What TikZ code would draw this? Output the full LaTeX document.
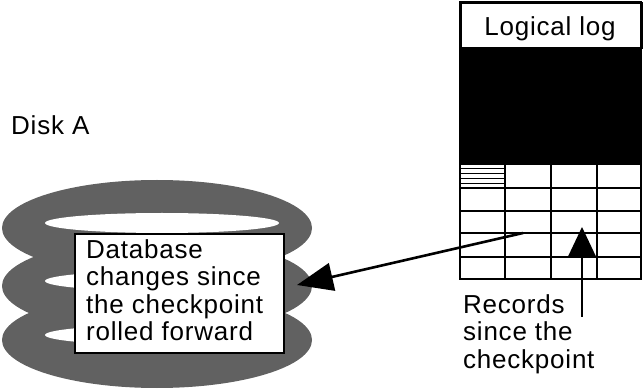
\documentclass[tikz,border=0pt]{standalone}
\usepackage{fontspec}
\setmainfont{Liberation Sans}
\usetikzlibrary{arrows.meta}
\begin{document}
\begin{tikzpicture}[x=1pt,y=-1pt,
  ring/.style={fill=black!62},
  ringhole/.style={fill=white},
  label/.style={font=\fontsize{26}{27.5}\selectfont\addfontfeatures{LetterSpace=3},
                align=left, inner sep=0pt},
  gridline/.style={line width=1.8pt},
  framebox/.style={draw, line width=2pt, fill=white, inner sep=0pt},
  bigtip/.style={line width=2.6pt, -{Triangle[length=36pt,width=28pt]}},
  uptip/.style={line width=1.6pt, -{Triangle[length=31pt,width=29pt]}}]
\useasboundingbox (0,0) rectangle (643,390);

% disk: three stacked platters, drawn from the bottom up
\foreach \c in {335,281,223}{
  \fill[ring] (157,\c+5) ellipse [x radius=155pt, y radius=48pt];
  \fill[ringhole] (162,\c) ellipse [x radius=117pt, y radius=10pt];
}
\node[label, anchor=base west] (disk) at (11,135) {Disk A};

% box of changed data on the disk
\node[framebox, anchor=north west, minimum width=209pt, minimum height=119pt]
  (dbbox) at (74,233) {};
\node[label, anchor=north west] (dbtext) at (86,239)
  {Database\\changes since\\the checkpoint\\rolled forward};

% logical log
\node[framebox, anchor=north west, minimum width=181pt, minimum height=45pt]
  (logtitle) at (460,2) {};
\node[label, anchor=base] (logname) at (550,36) {Logical log};
\fill (460,47) rectangle (641,165);
\foreach \x in {460,505,551,597,641}
  \draw[gridline] (\x,165) -- (\x,279);
\foreach \y in {188,211,233,257,279}
  \draw[gridline] (460,\y) -- (641,\y);
\foreach \y in {168.5,173.5,178.5,183.5}
  \draw[line width=1.4pt] (460,\y) -- (505,\y);
\draw[line width=2pt] (460,2) rectangle (641,279);

% connectors
\coordinate (logcell) at (523,233);
\coordinate (dbtip) at (297,285);
\draw[bigtip] (logcell) -- (dbtip);

\coordinate (recfoot) at (582,317);
\coordinate (rectip) at (582,227);
\draw[uptip] (recfoot) -- (rectip);

\node[label, anchor=north west] (rectext) at (463,294)
  {Records\\since the\\checkpoint};
\end{tikzpicture}
\end{document}
